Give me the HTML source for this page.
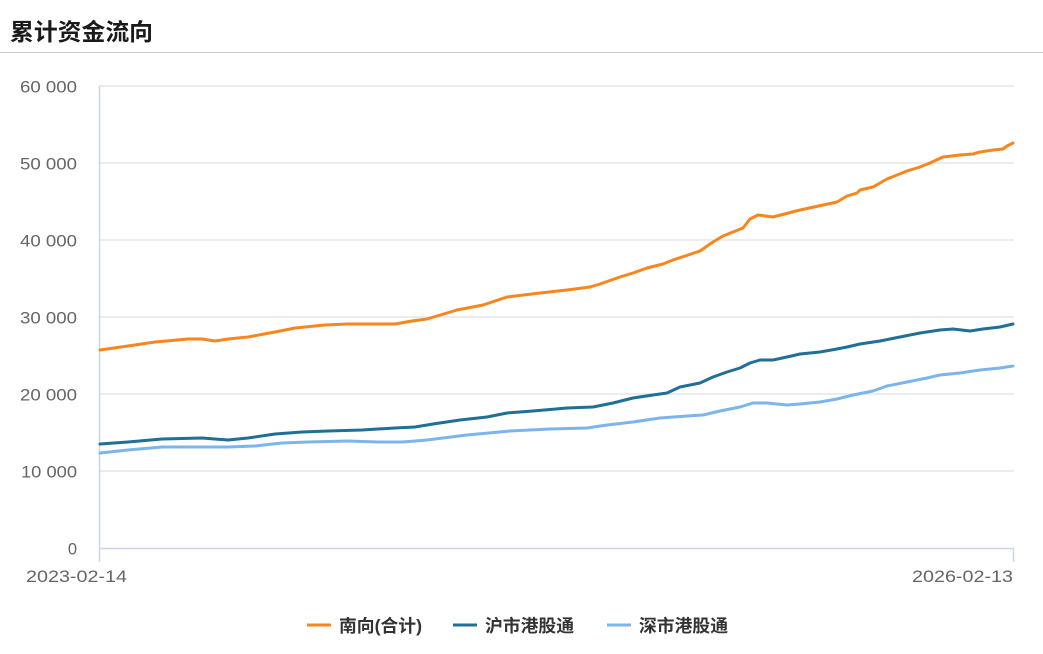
<!DOCTYPE html>
<html><head><meta charset="utf-8"><style>
html,body{margin:0;padding:0;background:#fff;width:1043px;height:654px;overflow:hidden}
svg{display:block}
</style></head><body>
<svg width="1043" height="654" viewBox="0 0 1043 654" xmlns="http://www.w3.org/2000/svg" font-family="Liberation Sans, Noto Sans CJK SC, sans-serif">
<text x="10" y="40" font-size="23.5" font-weight="bold" fill="#1a1a1a" font-family="Liberation Sans, Noto Sans CJK SC, sans-serif" textLength="143" lengthAdjust="spacingAndGlyphs">累计资金流向</text>
<line x1="0" y1="52.5" x2="1043" y2="52.5" stroke="#c8c8c8" stroke-width="1"/>
<g stroke="#e6e6e6" stroke-width="1.5">
<line x1="99" y1="86" x2="1014" y2="86"/>
<line x1="99" y1="163" x2="1014" y2="163"/>
<line x1="99" y1="240" x2="1014" y2="240"/>
<line x1="99" y1="317" x2="1014" y2="317"/>
<line x1="99" y1="394" x2="1014" y2="394"/>
<line x1="99" y1="471" x2="1014" y2="471"/>
</g>
<line x1="99" y1="548.5" x2="1014" y2="548.5" stroke="#ccd6eb" stroke-width="1.5"/>
<line x1="99.5" y1="86" x2="99.5" y2="562" stroke="#ccd6eb" stroke-width="1.5"/>
<line x1="1013.5" y1="548" x2="1013.5" y2="562" stroke="#ccd6eb" stroke-width="1.5"/>
<g font-size="16.5" fill="#666" text-anchor="end">
<text x="77" y="92.5" textLength="57" lengthAdjust="spacingAndGlyphs">60 000</text>
<text x="77" y="169.5" textLength="57" lengthAdjust="spacingAndGlyphs">50 000</text>
<text x="77" y="246.5" textLength="57" lengthAdjust="spacingAndGlyphs">40 000</text>
<text x="77" y="323.5" textLength="57" lengthAdjust="spacingAndGlyphs">30 000</text>
<text x="77" y="400.5" textLength="57" lengthAdjust="spacingAndGlyphs">20 000</text>
<text x="77" y="477.5" textLength="56" lengthAdjust="spacingAndGlyphs">10 000</text>
<text x="77" y="554.5">0</text>
</g>
<text x="26" y="582" font-size="16.5" fill="#666" textLength="101" lengthAdjust="spacingAndGlyphs">2023-02-14</text>
<text x="912" y="582" font-size="16.5" fill="#666" textLength="101" lengthAdjust="spacingAndGlyphs">2026-02-13</text>
<g fill="none" stroke-width="3" stroke-linejoin="round" stroke-linecap="round">
<polyline stroke="#7cb5ec" points="100,453 128,450 162,447 202,447 228,447 255,446 282,443 308,442 348,441 378,442 402,442 415,441 427,440 467,435 510,431 550,429 587,428 607,425 633,422 660,418 687,416 703,415 720,411 740,407 753,403 767,403 787,405 800,404 820,402 837,399 853,395 873,391 887,386 907,382 927,378 940,375 960,373 980,370 1000,368 1013,366"/>
<polyline stroke="#1f6f97" points="100,444 128,442 162,439 202,438 228,440 248,438 275,434 302,432 328,431 362,430 395,428 415,427 433,424 460,420 487,417 507,413 533,411 567,408 593,407 613,403 633,398 653,395 667,393 680,387 700,383 713,377 727,372 740,368 750,363 760,360 773,360 787,357 800,354 820,352 837,349 847,347 860,344 880,341 900,337 920,333 940,330 953,329 970,331 983,329 1000,327 1013,324"/>
<polyline stroke="#f7861c" points="100,350 128,346 155,342 188,339 202,339 215,341 228,339 248,337 275,332 295,328 325,325 348,324 378,324 395,324 412,321 427,319 457,310 483,305 507,297 540,293 567,290 590,287 600,284 620,277 633,273 647,268 663,264 673,260 688,255 700,251 713,242 723,236 733,232 743,228 750,219 758,215 773,217 800,210 837,202 847,196 857,193 860,190 873,187 887,179 907,171 920,167 930,163 943,157 960,155 973,154 980,152 993,150 1003,149 1007,146 1013,143"/>
</g>
<g stroke-width="3">
<line x1="307" y1="625" x2="331" y2="625" stroke="#f7861c"/>
<line x1="453" y1="625" x2="477" y2="625" stroke="#1f6f97"/>
<line x1="607" y1="625" x2="631" y2="625" stroke="#7cb5ec"/>
</g>
<g font-size="17.5" font-weight="bold" fill="#333">
<text x="339" y="632" textLength="83" lengthAdjust="spacingAndGlyphs">南向(合计)</text>
<text x="485" y="632" textLength="89" lengthAdjust="spacingAndGlyphs">沪市港股通</text>
<text x="639" y="632" textLength="89" lengthAdjust="spacingAndGlyphs">深市港股通</text>
</g>
</svg>
</body></html>
